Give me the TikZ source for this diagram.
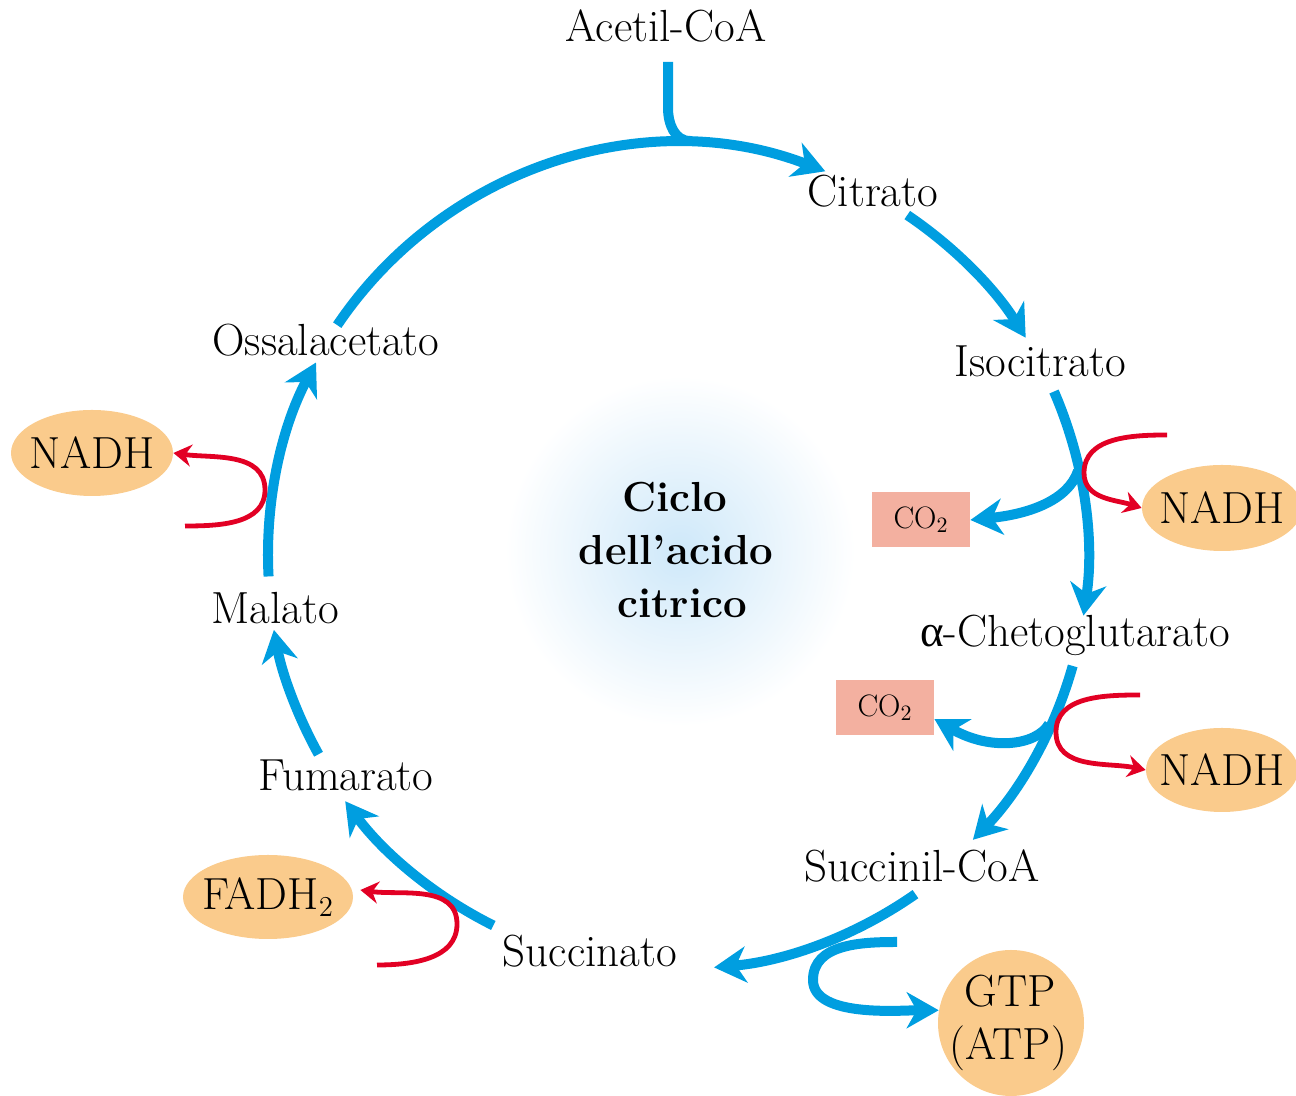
\documentclass[tikz,border=0pt]{standalone}
\usepackage{fontspec}
\newfontfamily\grk{Liberation Serif}
\usetikzlibrary{arrows.meta,shapes.geometric}
\definecolor{cblue}{RGB}{0,158,224}
\definecolor{cred}{RGB}{226,0,36}
\definecolor{corange}{RGB}{250,203,140}
\definecolor{csalmon}{RGB}{243,176,160}
\definecolor{cglow}{RGB}{206,232,249}
\newcommand\lblfont{\fontsize{22.5}{26}\selectfont}
\newcommand\cofont{\fontsize{15.5}{18}\selectfont}
\newcommand\titfont{\fontsize{21}{26}\selectfont\bfseries}
\begin{document}
\begin{tikzpicture}[x=0.5pt,y=0.5pt,
  bluehead/.style={-{Stealth[length=16pt,width=18pt,inset=5pt]}},
  cycline/.style={draw=cblue,line width=5pt},
  cyc/.style={cycline,bluehead},
  redarr/.style={draw=cred,line width=2.4pt,-{Stealth[length=9pt,width=11pt,inset=3pt]}},
  lbl/.style={font=\lblfont,anchor=base,inner sep=0pt},
  tit/.style={font=\titfont,anchor=base,inner sep=0pt},
  oval/.style={ellipse,fill=corange,inner sep=0pt,draw=none},
  cobox/.style={rectangle,fill=csalmon,inner sep=0pt,font=\cofont,minimum width=49pt,minimum height=27.5pt},
]
\useasboundingbox (0,0) rectangle (1296,1096);
\clip (0,0) rectangle (1296,1096);

% central glow
\shade[inner color=cglow,outer color=white] (680,545) circle (175);

% labels
\node[lbl] (acetil) at (666,1054) {Acetil-CoA};
\node[lbl] (citrato) at (873,889) {Citrato};
\node[lbl] (isocitrato) at (1040,719) {Isocitrato};
\node[lbl] (akg) at (1075,449) {{\grk α}-Chetoglutarato};
\node[lbl] (succoa) at (922,214) {Succinil-CoA};
\node[lbl] (succinato) at (590,129) {Succinato};
\node[lbl] (fumarato) at (346,305) {Fumarato};
\node[lbl] (malato) at (275,472) {Malato};
\node[lbl] (ossal) at (326,740) {Ossalacetato};

\node[tit] (t1) at (675,584) {Ciclo};
\node[tit] (t2) at (676,531) {dell’acido};
\node[tit] (t3) at (682,478) {citrico};

% product shapes
\node[oval,minimum width=81pt,minimum height=43pt] (nadhL) at (92,643) {};
\node[lbl] at (nadhL.center) [anchor=center] {NADH};
\node[oval,minimum width=80pt,minimum height=43pt] (nadhR1) at (1222,588) {};
\node[lbl] at (nadhR1.center) [anchor=center] {NADH};
\node[oval,minimum width=76pt,minimum height=42pt] (nadhR2) at (1222,326) {};
\node[lbl] at (nadhR2.center) [anchor=center] {NADH};
\node[oval,minimum width=85pt,minimum height=42pt] (fadh) at (268,199) {};
\node[lbl] at (fadh.center) [anchor=center] {FADH$_2$};
\node[circle,fill=corange,inner sep=0pt,minimum size=73pt] (gtp) at (1011,73) {};
\node[lbl] at (1010,89) {GTP};
\node[lbl] at (1008,36) {(ATP)};
\node[cobox] (co2a) at (921,576) {CO$_2$};
\node[cobox] (co2b) at (885,388) {CO$_2$};

% acetyl-CoA entry, drawn first; its end lies inside the arc stroke
\coordinate (aco1) at (668,1034);
\coordinate (join) at (690,955);
\draw[cycline] (aco1) -- (668,988) to[out=-90,in=180] (join);

% cycle arcs
\coordinate (C) at (678,541);
\draw[cyc] ([shift={(C)}]146:411) arc[start angle=146,end angle=69,radius=411];
\draw[cyc] ([shift={(C)}]56:410) arc[start angle=56,end angle=32,radius=410];
\draw[cyc] ([shift={(C)}]23.5:410) arc[start angle=23.5,end angle=-8.5,radius=410];
\draw[cyc] ([shift={(C)}]-15.7:410) arc[start angle=-15.7,end angle=-44,radius=410];
\draw[cyc] ([shift={(C)}]-55:414) arc[start angle=-55,end angle=-85,radius=414];
\draw[cyc] ([shift={(C)}]-116.5:414) arc[start angle=-116.5,end angle=-143.5,radius=414];
\draw[cyc] ([shift={(C)}]-151:411) arc[start angle=-151,end angle=-169.5,radius=411];
\draw[cyc] ([shift={(C)}]-177:410) arc[start angle=-177,end angle=-208,radius=410];

% isocitrate branch
\coordinate (b1) at (1078,625);
\draw[cyc] (b1) .. controls (1068,596) and (1030,582) .. (co2a.east);
\coordinate (r1s) at (1167,661);
\coordinate (r1m) at (1084,623);
\draw[redarr] (r1s) to[out=180,in=90] (r1m) to[out=-90,in=162] (nadhR1.west);

% alpha-ketoglutarate branch
\coordinate (b2) at (1049,372);
\draw[cyc] (b2) .. controls (1036,350) and (990,345) .. ([yshift=-5.5pt]co2b.east);
\coordinate (r2s) at (1140,401);
\coordinate (r2m) at (1056,364);
\draw[redarr] (r2s) to[out=180,in=90] (r2m) to[out=-90,in=168] (nadhR2.west);

% succinyl-CoA branch
\coordinate (b3) at (897,154);
\coordinate (b3m) at (813,116);
\draw[cyc] (b3) to[out=180,in=90] (b3m) to[out=-90,in=180,looseness=0.75] (gtp.170);

% malate
\coordinate (r3s) at (185,570);
\coordinate (r3m) at (265,606);
\draw[redarr] (r3s) to[out=0,in=-90] (r3m) to[out=90,in=-8] (nadhL.east);

% succinate
\coordinate (r4s) at (377,131);
\coordinate (r4m) at (457,172);
\draw[redarr] (r4s) to[out=0,in=-90] (r4m) to[out=90,in=-8] ([xshift=3.5pt,yshift=3.5pt]fadh.east);
\end{tikzpicture}
\end{document}
